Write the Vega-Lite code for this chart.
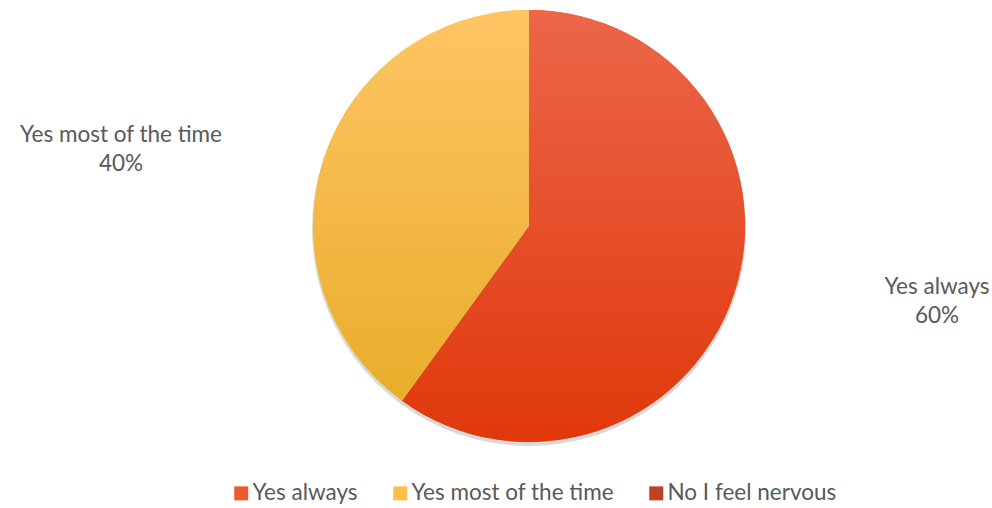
{
  "$schema": "https://vega.github.io/schema/vega-lite/v6.json",
  "autosize": {"type": "none"},
  "width": 432,
  "height": 432,
  "padding": {"left": 313, "top": 10, "right": 247, "bottom": 66},
  "background": "white",
  "data": {
    "values": [
      {"answer": "Yes always", "share": 0.6},
      {"answer": "Yes most of the time", "share": 0.4},
      {"answer": "No I feel nervous", "share": 0}
    ]
  },
  "config": {
    "view": {"stroke": null},
    "font": "Lato",
    "legend": {
      "orient": "none",
      "legendX": -83,
      "legendY": 472,
      "direction": "horizontal",
      "symbolType": "square",
      "symbolSize": 196,
      "symbolStrokeWidth": 0,
      "labelFontSize": 22.5,
      "labelColor": "#595959",
      "labelFont": "Lato",
      "labelOffset": 0,
      "labelLimit": 0,
      "columnPadding": 31,
      "title": null
    }
  },
  "resolve": {"scale": {"theta": "independent"}},
  "layer": [
    {
      "mark": {"type": "arc", "outerRadius": 217, "fill": "#000000", "opacity": 0.15, "yOffset": 3},
      "encoding": {
        "theta": {"field": "share", "type": "quantitative", "stack": true}
      }
    },
    {
      "mark": {"type": "arc", "outerRadius": 216},
      "encoding": {
        "theta": {"field": "share", "type": "quantitative", "stack": true},
        "color": {
          "field": "answer",
          "type": "nominal",
          "sort": ["Yes always", "Yes most of the time", "No I feel nervous"],
          "scale": {
            "domain": ["Yes always", "Yes most of the time", "No I feel nervous"],
            "range": ["#EE5A30", "#FDBF45", "#C0412A"]
          },
          "legend": {"title": null}
        }
      }
    },
    {
      "mark": {"type": "arc", "outerRadius": 216},
      "encoding": {
        "theta": {"field": "share", "type": "quantitative", "stack": true},
        "fill": {
          "condition": {
            "test": "datum.answer === 'Yes always'",
            "value": {"gradient": "linear", "x1": 0, "y1": 0, "x2": 0, "y2": 1,
              "stops": [{"offset": 0, "color": "#EC664A"}, {"offset": 1, "color": "#E0380B"}]}
          },
          "value": {"gradient": "linear", "x1": 0, "y1": 0, "x2": 0, "y2": 1,
            "stops": [{"offset": 0, "color": "#FEC563"}, {"offset": 1, "color": "#E9AD2C"}]}
        }
      }
    },
    {
      "transform": [{"filter": "datum.share > 0"}],
      "mark": {"type": "text", "radius": 415, "dy": -15, "fontSize": 22.5, "color": "#595959", "font": "Lato", "align": "center", "baseline": "middle"},
      "encoding": {
        "theta": {"field": "share", "type": "quantitative", "stack": true, "scale": {"range": [-0.1309, 6.1523]}},
        "order": {"field": "answer", "type": "nominal"},
        "text": {"field": "answer"}
      }
    },
    {
      "transform": [{"filter": "datum.share > 0"}],
      "mark": {"type": "text", "radius": 415, "dy": 14, "fontSize": 22.5, "color": "#595959", "font": "Lato", "align": "center", "baseline": "middle"},
      "encoding": {
        "theta": {"field": "share", "type": "quantitative", "stack": true, "scale": {"range": [-0.1309, 6.1523]}},
        "order": {"field": "answer", "type": "nominal"},
        "text": {"field": "share", "format": ".0%"}
      }
    }
  ]
}
